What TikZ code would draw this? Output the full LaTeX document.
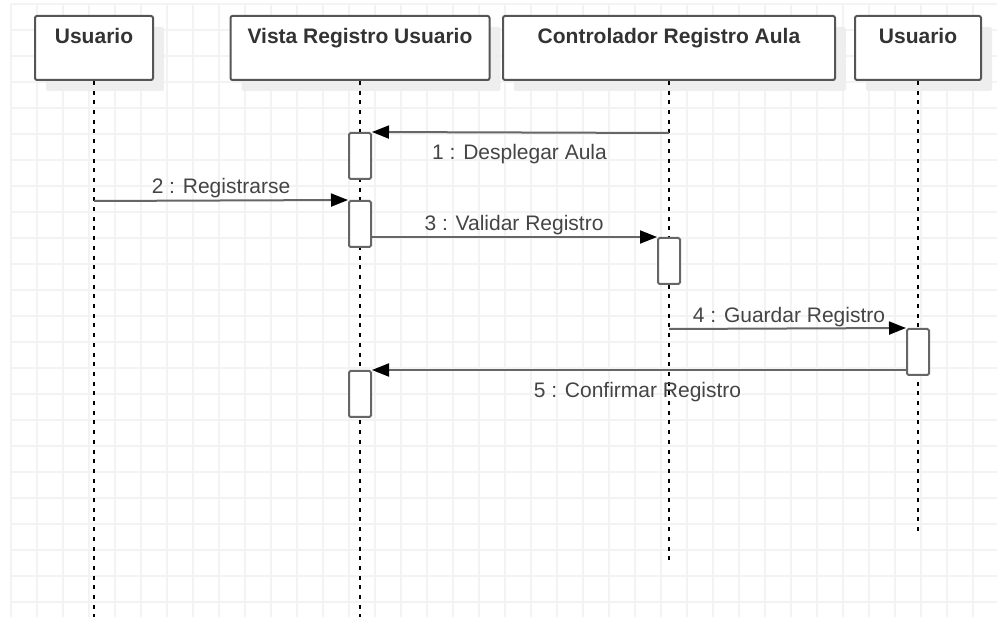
\documentclass[tikz,border=0pt]{standalone}
\usepackage{fontspec}
\setmainfont{Liberation Sans}
\usetikzlibrary{arrows.meta,shadows}
\definecolor{gridc}{HTML}{F3F3F3}
\definecolor{shadc}{HTML}{EEEEEE}
\definecolor{boxc}{HTML}{555555}
\definecolor{hdrtxt}{HTML}{333333}
\definecolor{msgc}{HTML}{666666}
\definecolor{lblc}{HTML}{444444}
\begin{document}
\begin{tikzpicture}[x=1pt,y=-1pt,
  gridl/.style={draw=gridc, line width=1.3pt},
  hdr/.style={draw=boxc, line width=2pt, fill=white, rounded corners=2pt,
    minimum height=64pt, inner sep=0pt, text height=14pt, text depth=22pt,
    font=\fontsize{21}{25}\selectfont\bfseries, text=hdrtxt,
    drop shadow={shadow xshift=11pt, shadow yshift=-11pt, fill=shadc, draw=none, opacity=1}},
  life/.style={draw=black, line width=1.5pt, dash pattern=on 4pt off 5.7pt},
  act/.style={draw=msgc, line width=2pt, fill=white, rounded corners=1.5pt,
    minimum width=22pt, minimum height=46pt, inner sep=0pt},
  msg/.style={draw=msgc, line width=2pt, -{Triangle[length=17pt,width=13pt,color=black]}},
  lbl/.style={font=\fontsize{21}{25}\selectfont, text=lblc, anchor=base, inner sep=0pt}]
\useasboundingbox (0,0) rectangle (997,617);
% grid
\foreach \i in {0,...,37} \draw[gridl] ({11+26*\i},4) -- ({11+26*\i},617);
\foreach \j in {0,...,23} \draw[gridl] (11,{4+26*\j}) -- (997,{4+26*\j});
% headers
\node[hdr, minimum width=118pt] (h1) at (94,48) {Usuario};
\node[hdr, minimum width=259pt] (h2) at (360,48) {Vista Registro Usuario};
\node[hdr, minimum width=332pt] (h3) at (669,48) {Controlador Registro Aula};
\node[hdr, minimum width=126pt] (h4) at (918,48) {Usuario};
% lifelines
\coordinate (e1) at (94,617);
\coordinate (e2) at (360,617);
\coordinate (e3) at (669,565);
\coordinate (e4) at (918,536);
\draw[life] (h1.south) -- (e1);
\draw[life] (h2.south) -- (e2);
\draw[life] (h3.south) -- (e3);
\draw[life] (h4.south) -- (e4);
% activations
\node[act] (a1) at (360,156) {};
\node[act] (a2) at (360,224) {};
\node[act] (a3) at (669,261) {};
\node[act] (a4) at (918,352) {};
\node[act] (a5) at (360,394) {};
% messages
\coordinate (m1s) at (669,133);
\coordinate (m2s) at (94,201);
\coordinate (m4s) at (669,329);
\draw[msg] (m1s) -- (a1.north east);
\draw[msg] (m2s) -- (a2.north west);
\draw[msg] (a2.east |- a3.north) -- (a3.north west);
\draw[msg] (m4s) -- (a4.north west);
\draw[msg] (a4.west |- a5.north) -- (a5.north east);
% labels
\node[lbl] (t1) at (519.5,160) {1 : Desplegar Aula};
\node[lbl] (t2) at (221,194) {2 : Registrarse};
\node[lbl] (t3) at (514,231) {3 : Validar Registro};
\node[lbl] (t4) at (789,323) {4 : Guardar Registro};
\node[lbl] (t5) at (637.5,398) {5 : Confirmar Registro};
\end{tikzpicture}
\end{document}
